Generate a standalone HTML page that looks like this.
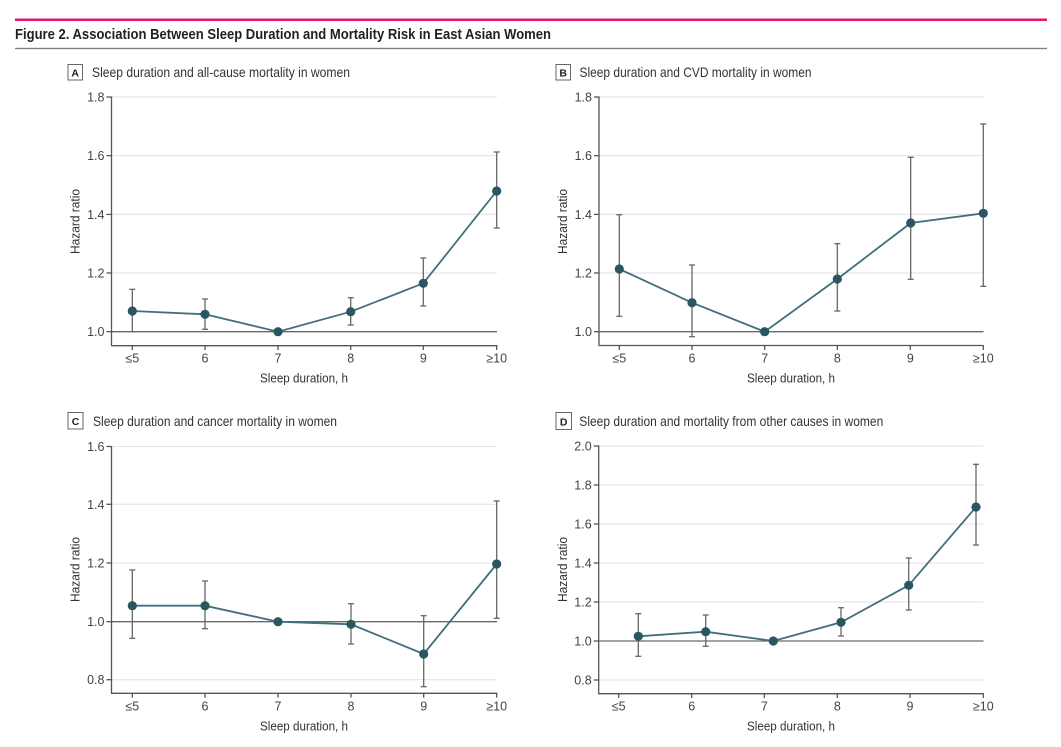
<!DOCTYPE html>
<html>
<head>
<meta charset="utf-8">
<style>
  html,body{margin:0;padding:0;background:#fff;}
  svg{display:block;}
  text{font-family:"Liberation Sans", sans-serif;}
</style>
</head>
<body>
<svg width="1061" height="747" viewBox="0 0 1061 747" xmlns="http://www.w3.org/2000/svg">
  <rect x="0" y="0" width="1061" height="747" fill="#fff"/>
  <!-- header -->
  <rect x="15" y="18.5" width="1032" height="2.5" fill="#e5146f"/>
  <text x="15" y="39" font-size="15" font-weight="bold" fill="#231f20" textLength="536" lengthAdjust="spacingAndGlyphs">Figure 2. Association Between Sleep Duration and Mortality Risk in East Asian Women</text>
  <rect x="15" y="47.8" width="1032" height="1.4" fill="#808080"/>

  <!-- ============ PANEL A ============ -->
  <rect x="68" y="64.5" width="14.5" height="15.5" fill="#fff" stroke="#666" stroke-width="1"/>
  <text x="75.2" y="76.5" font-size="10.5" font-weight="bold" fill="#222" text-anchor="middle">A</text>
  <text x="92" y="77" font-size="14" fill="#333" textLength="258" lengthAdjust="spacingAndGlyphs">Sleep duration and all-cause mortality in women</text>
  <g stroke="#e6e6e6" stroke-width="1.2">
    <line x1="111.5" y1="97" x2="497" y2="97"/>
    <line x1="111.5" y1="155.7" x2="497" y2="155.7"/>
    <line x1="111.5" y1="214.4" x2="497" y2="214.4"/>
    <line x1="111.5" y1="273" x2="497" y2="273"/>
  </g>
  <line x1="111.5" y1="331.7" x2="497" y2="331.7" stroke="#6a6a6a" stroke-width="1.3"/>
  <g stroke="#555" stroke-width="1.3" fill="none">
    <line x1="111.5" y1="96.5" x2="111.5" y2="346"/>
    <line x1="111" y1="345.7" x2="497.3" y2="345.7"/>
    <line x1="106.5" y1="97" x2="111.5" y2="97"/>
    <line x1="106.5" y1="155.7" x2="111.5" y2="155.7"/>
    <line x1="106.5" y1="214.4" x2="111.5" y2="214.4"/>
    <line x1="106.5" y1="273" x2="111.5" y2="273"/>
    <line x1="106.5" y1="331.7" x2="111.5" y2="331.7"/>
    <line x1="132.3" y1="345.7" x2="132.3" y2="350"/>
    <line x1="205" y1="345.7" x2="205" y2="350"/>
    <line x1="278" y1="345.7" x2="278" y2="350"/>
    <line x1="350.7" y1="345.7" x2="350.7" y2="350"/>
    <line x1="423.3" y1="345.7" x2="423.3" y2="350"/>
    <line x1="496.7" y1="345.7" x2="496.7" y2="350"/>
  </g>
  <g font-size="12.5" fill="#4a423f" text-anchor="end">
    <text x="104.5" y="101.5">1.8</text>
    <text x="104.5" y="160.2">1.6</text>
    <text x="104.5" y="218.9">1.4</text>
    <text x="104.5" y="277.5">1.2</text>
    <text x="104.5" y="336.2">1.0</text>
  </g>
  <g font-size="12.5" fill="#4a423f" text-anchor="middle">
    <text x="132.3" y="362.7">≤5</text>
    <text x="205" y="362.7">6</text>
    <text x="278" y="362.7">7</text>
    <text x="350.7" y="362.7">8</text>
    <text x="423.3" y="362.7">9</text>
    <text x="496.7" y="362.7">≥10</text>
  </g>
  <text x="304" y="382.3" font-size="13" fill="#333" text-anchor="middle" textLength="88" lengthAdjust="spacingAndGlyphs">Sleep duration, h</text>
  <text transform="translate(79.5,221.5) rotate(-90)" font-size="13" fill="#333" text-anchor="middle" textLength="65" lengthAdjust="spacingAndGlyphs">Hazard ratio</text>
  <g stroke="#666" stroke-width="1.3">
    <line x1="132.3" y1="289.3" x2="132.3" y2="331.7"/><line x1="129.3" y1="289.3" x2="135.3" y2="289.3"/><line x1="129.3" y1="331.7" x2="135.3" y2="331.7"/>
    <line x1="205" y1="299" x2="205" y2="329.3"/><line x1="202" y1="299" x2="208" y2="299"/><line x1="202" y1="329.3" x2="208" y2="329.3"/>
    <line x1="350.7" y1="297.7" x2="350.7" y2="325"/><line x1="347.7" y1="297.7" x2="353.7" y2="297.7"/><line x1="347.7" y1="325" x2="353.7" y2="325"/>
    <line x1="423.3" y1="258" x2="423.3" y2="306"/><line x1="420.3" y1="258" x2="426.3" y2="258"/><line x1="420.3" y1="306" x2="426.3" y2="306"/>
    <line x1="496.7" y1="152" x2="496.7" y2="228"/><line x1="493.7" y1="152" x2="499.7" y2="152"/><line x1="493.7" y1="228" x2="499.7" y2="228"/>
  </g>
  <polyline points="132.3,311 205,314.3 278,331.7 350.7,311.7 423.3,283.3 496.7,191" fill="none" stroke="#41707c" stroke-width="1.8"/>
  <g fill="#2a5662">
    <circle cx="132.3" cy="311" r="4.6"/><circle cx="205" cy="314.3" r="4.6"/><circle cx="278" cy="331.7" r="4.6"/>
    <circle cx="350.7" cy="311.7" r="4.6"/><circle cx="423.3" cy="283.3" r="4.6"/><circle cx="496.7" cy="191" r="4.6"/>
  </g>

  <!-- ============ PANEL B ============ -->
  <rect x="556" y="64.5" width="14.5" height="15.5" fill="#fff" stroke="#666" stroke-width="1"/>
  <text x="563.2" y="76.5" font-size="10.5" font-weight="bold" fill="#222" text-anchor="middle">B</text>
  <text x="579.5" y="77" font-size="14" fill="#333" textLength="232" lengthAdjust="spacingAndGlyphs">Sleep duration and CVD mortality in women</text>
  <g stroke="#e6e6e6" stroke-width="1.2">
    <line x1="599" y1="97" x2="983.5" y2="97"/>
    <line x1="599" y1="155.7" x2="983.5" y2="155.7"/>
    <line x1="599" y1="214.4" x2="983.5" y2="214.4"/>
    <line x1="599" y1="273" x2="983.5" y2="273"/>
  </g>
  <line x1="599" y1="331.7" x2="983.5" y2="331.7" stroke="#6a6a6a" stroke-width="1.3"/>
  <g stroke="#555" stroke-width="1.3" fill="none">
    <line x1="599" y1="96.5" x2="599" y2="346"/>
    <line x1="598.5" y1="345.5" x2="983.8" y2="345.5"/>
    <line x1="594" y1="97" x2="599" y2="97"/>
    <line x1="594" y1="155.7" x2="599" y2="155.7"/>
    <line x1="594" y1="214.4" x2="599" y2="214.4"/>
    <line x1="594" y1="273" x2="599" y2="273"/>
    <line x1="594" y1="331.7" x2="599" y2="331.7"/>
    <line x1="619.3" y1="345.5" x2="619.3" y2="350"/>
    <line x1="692" y1="345.5" x2="692" y2="350"/>
    <line x1="764.7" y1="345.5" x2="764.7" y2="350"/>
    <line x1="837.3" y1="345.5" x2="837.3" y2="350"/>
    <line x1="910.3" y1="345.5" x2="910.3" y2="350"/>
    <line x1="983.3" y1="345.5" x2="983.3" y2="350"/>
  </g>
  <g font-size="12.5" fill="#4a423f" text-anchor="end">
    <text x="592" y="101.5">1.8</text>
    <text x="592" y="160.2">1.6</text>
    <text x="592" y="218.9">1.4</text>
    <text x="592" y="277.5">1.2</text>
    <text x="592" y="336.2">1.0</text>
  </g>
  <g font-size="12.5" fill="#4a423f" text-anchor="middle">
    <text x="619.3" y="362.5">≤5</text>
    <text x="692" y="362.5">6</text>
    <text x="764.7" y="362.5">7</text>
    <text x="837.3" y="362.5">8</text>
    <text x="910.3" y="362.5">9</text>
    <text x="983.3" y="362.5">≥10</text>
  </g>
  <text x="791" y="382.3" font-size="13" fill="#333" text-anchor="middle" textLength="88" lengthAdjust="spacingAndGlyphs">Sleep duration, h</text>
  <text transform="translate(566.8,221.5) rotate(-90)" font-size="13" fill="#333" text-anchor="middle" textLength="65" lengthAdjust="spacingAndGlyphs">Hazard ratio</text>
  <g stroke="#666" stroke-width="1.3">
    <line x1="619.3" y1="214.7" x2="619.3" y2="316.3"/><line x1="616.3" y1="214.7" x2="622.3" y2="214.7"/><line x1="616.3" y1="316.3" x2="622.3" y2="316.3"/>
    <line x1="692" y1="265" x2="692" y2="336.7"/><line x1="689" y1="265" x2="695" y2="265"/><line x1="689" y1="336.7" x2="695" y2="336.7"/>
    <line x1="837.3" y1="243.7" x2="837.3" y2="311"/><line x1="834.3" y1="243.7" x2="840.3" y2="243.7"/><line x1="834.3" y1="311" x2="840.3" y2="311"/>
    <line x1="910.7" y1="157.3" x2="910.7" y2="279.3"/><line x1="907.7" y1="157.3" x2="913.7" y2="157.3"/><line x1="907.7" y1="279.3" x2="913.7" y2="279.3"/>
    <line x1="983.3" y1="124" x2="983.3" y2="286.3"/><line x1="980.3" y1="124" x2="986.3" y2="124"/><line x1="980.3" y1="286.3" x2="986.3" y2="286.3"/>
  </g>
  <polyline points="619.3,269 692,302.7 764.7,331.7 837.3,279 910.7,223 983.3,213.3" fill="none" stroke="#41707c" stroke-width="1.8"/>
  <g fill="#2a5662">
    <circle cx="619.3" cy="269" r="4.6"/><circle cx="692" cy="302.7" r="4.6"/><circle cx="764.7" cy="331.7" r="4.6"/>
    <circle cx="837.3" cy="279" r="4.6"/><circle cx="910.7" cy="223" r="4.6"/><circle cx="983.3" cy="213.3" r="4.6"/>
  </g>

  <!-- ============ PANEL C ============ -->
  <rect x="68" y="412.5" width="15" height="16.5" fill="#fff" stroke="#666" stroke-width="1"/>
  <text x="75.5" y="425" font-size="10.5" font-weight="bold" fill="#222" text-anchor="middle">C</text>
  <text x="93" y="426" font-size="14" fill="#333" textLength="244" lengthAdjust="spacingAndGlyphs">Sleep duration and cancer mortality in women</text>
  <g stroke="#e6e6e6" stroke-width="1.2">
    <line x1="111.5" y1="446.5" x2="497" y2="446.5"/>
    <line x1="111.5" y1="504.3" x2="497" y2="504.3"/>
    <line x1="111.5" y1="563" x2="497" y2="563"/>
    <line x1="111.5" y1="679.7" x2="497" y2="679.7"/>
  </g>
  <line x1="111.5" y1="621.7" x2="497" y2="621.7" stroke="#6a6a6a" stroke-width="1.3"/>
  <g stroke="#555" stroke-width="1.3" fill="none">
    <line x1="111.5" y1="446" x2="111.5" y2="693.6"/>
    <line x1="111" y1="693.3" x2="497.3" y2="693.3"/>
    <line x1="106.5" y1="446.5" x2="111.5" y2="446.5"/>
    <line x1="106.5" y1="504.3" x2="111.5" y2="504.3"/>
    <line x1="106.5" y1="563" x2="111.5" y2="563"/>
    <line x1="106.5" y1="621.7" x2="111.5" y2="621.7"/>
    <line x1="106.5" y1="679.7" x2="111.5" y2="679.7"/>
    <line x1="132.3" y1="693.3" x2="132.3" y2="697.6"/>
    <line x1="205" y1="693.3" x2="205" y2="697.6"/>
    <line x1="278" y1="693.3" x2="278" y2="697.6"/>
    <line x1="351" y1="693.3" x2="351" y2="697.6"/>
    <line x1="423.7" y1="693.3" x2="423.7" y2="697.6"/>
    <line x1="496.7" y1="693.3" x2="496.7" y2="697.6"/>
  </g>
  <g font-size="12.5" fill="#4a423f" text-anchor="end">
    <text x="104.5" y="451">1.6</text>
    <text x="104.5" y="508.8">1.4</text>
    <text x="104.5" y="567.5">1.2</text>
    <text x="104.5" y="626.2">1.0</text>
    <text x="104.5" y="684.2">0.8</text>
  </g>
  <g font-size="12.5" fill="#4a423f" text-anchor="middle">
    <text x="132.3" y="710.7">≤5</text>
    <text x="205" y="710.7">6</text>
    <text x="278" y="710.7">7</text>
    <text x="351" y="710.7">8</text>
    <text x="423.7" y="710.7">9</text>
    <text x="496.7" y="710.7">≥10</text>
  </g>
  <text x="304" y="730.5" font-size="13" fill="#333" text-anchor="middle" textLength="88" lengthAdjust="spacingAndGlyphs">Sleep duration, h</text>
  <text transform="translate(79.5,569.5) rotate(-90)" font-size="13" fill="#333" text-anchor="middle" textLength="65" lengthAdjust="spacingAndGlyphs">Hazard ratio</text>
  <g stroke="#666" stroke-width="1.3">
    <line x1="132.3" y1="570" x2="132.3" y2="638.3"/><line x1="129.3" y1="570" x2="135.3" y2="570"/><line x1="129.3" y1="638.3" x2="135.3" y2="638.3"/>
    <line x1="205" y1="581" x2="205" y2="628.7"/><line x1="202" y1="581" x2="208" y2="581"/><line x1="202" y1="628.7" x2="208" y2="628.7"/>
    <line x1="351" y1="603.7" x2="351" y2="644"/><line x1="348" y1="603.7" x2="354" y2="603.7"/><line x1="348" y1="644" x2="354" y2="644"/>
    <line x1="423.7" y1="615.7" x2="423.7" y2="686.7"/><line x1="420.7" y1="615.7" x2="426.7" y2="615.7"/><line x1="420.7" y1="686.7" x2="426.7" y2="686.7"/>
    <line x1="496.7" y1="501" x2="496.7" y2="618.3"/><line x1="493.7" y1="501" x2="499.7" y2="501"/><line x1="493.7" y1="618.3" x2="499.7" y2="618.3"/>
  </g>
  <polyline points="132.3,605.7 205,605.7 278,621.7 351,624.3 423.7,654 496.7,564" fill="none" stroke="#41707c" stroke-width="1.8"/>
  <g fill="#2a5662">
    <circle cx="132.3" cy="605.7" r="4.6"/><circle cx="205" cy="605.7" r="4.6"/><circle cx="278" cy="621.7" r="4.6"/>
    <circle cx="351" cy="624.3" r="4.6"/><circle cx="423.7" cy="654" r="4.6"/><circle cx="496.7" cy="564" r="4.6"/>
  </g>

  <!-- ============ PANEL D ============ -->
  <rect x="556" y="412.5" width="15.5" height="17" fill="#fff" stroke="#666" stroke-width="1"/>
  <text x="563.7" y="425.3" font-size="10.5" font-weight="bold" fill="#222" text-anchor="middle">D</text>
  <text x="579.3" y="426" font-size="14" fill="#333" textLength="304" lengthAdjust="spacingAndGlyphs">Sleep duration and mortality from other causes in women</text>
  <g stroke="#e6e6e6" stroke-width="1.2">
    <line x1="598.7" y1="446" x2="983.5" y2="446"/>
    <line x1="598.7" y1="485" x2="983.5" y2="485"/>
    <line x1="598.7" y1="524" x2="983.5" y2="524"/>
    <line x1="598.7" y1="563" x2="983.5" y2="563"/>
    <line x1="598.7" y1="602" x2="983.5" y2="602"/>
    <line x1="598.7" y1="680" x2="983.5" y2="680"/>
  </g>
  <line x1="598.7" y1="641" x2="983.5" y2="641" stroke="#6a6a6a" stroke-width="1.3"/>
  <g stroke="#555" stroke-width="1.3" fill="none">
    <line x1="598.7" y1="445.5" x2="598.7" y2="694"/>
    <line x1="598.2" y1="693.7" x2="983.8" y2="693.7"/>
    <line x1="593.7" y1="446" x2="598.7" y2="446"/>
    <line x1="593.7" y1="485" x2="598.7" y2="485"/>
    <line x1="593.7" y1="524" x2="598.7" y2="524"/>
    <line x1="593.7" y1="563" x2="598.7" y2="563"/>
    <line x1="593.7" y1="602" x2="598.7" y2="602"/>
    <line x1="593.7" y1="641" x2="598.7" y2="641"/>
    <line x1="593.7" y1="680" x2="598.7" y2="680"/>
    <line x1="618.7" y1="693.7" x2="618.7" y2="698"/>
    <line x1="691.7" y1="693.7" x2="691.7" y2="698"/>
    <line x1="764.3" y1="693.7" x2="764.3" y2="698"/>
    <line x1="837.3" y1="693.7" x2="837.3" y2="698"/>
    <line x1="910" y1="693.7" x2="910" y2="698"/>
    <line x1="983.3" y1="693.7" x2="983.3" y2="698"/>
  </g>
  <g font-size="12.5" fill="#4a423f" text-anchor="end">
    <text x="591.7" y="450.5">2.0</text>
    <text x="591.7" y="489.5">1.8</text>
    <text x="591.7" y="528.5">1.6</text>
    <text x="591.7" y="567.5">1.4</text>
    <text x="591.7" y="606.5">1.2</text>
    <text x="591.7" y="645.5">1.0</text>
    <text x="591.7" y="684.5">0.8</text>
  </g>
  <g font-size="12.5" fill="#4a423f" text-anchor="middle">
    <text x="618.7" y="710.7">≤5</text>
    <text x="691.7" y="710.7">6</text>
    <text x="764.3" y="710.7">7</text>
    <text x="837.3" y="710.7">8</text>
    <text x="910" y="710.7">9</text>
    <text x="983.3" y="710.7">≥10</text>
  </g>
  <text x="791" y="730.5" font-size="13" fill="#333" text-anchor="middle" textLength="88" lengthAdjust="spacingAndGlyphs">Sleep duration, h</text>
  <text transform="translate(566.8,569.5) rotate(-90)" font-size="13" fill="#333" text-anchor="middle" textLength="65" lengthAdjust="spacingAndGlyphs">Hazard ratio</text>
  <g stroke="#666" stroke-width="1.3">
    <line x1="638.3" y1="613.7" x2="638.3" y2="656.3"/><line x1="635.3" y1="613.7" x2="641.3" y2="613.7"/><line x1="635.3" y1="656.3" x2="641.3" y2="656.3"/>
    <line x1="705.7" y1="615" x2="705.7" y2="646.3"/><line x1="702.7" y1="615" x2="708.7" y2="615"/><line x1="702.7" y1="646.3" x2="708.7" y2="646.3"/>
    <line x1="841" y1="607.7" x2="841" y2="636"/><line x1="838" y1="607.7" x2="844" y2="607.7"/><line x1="838" y1="636" x2="844" y2="636"/>
    <line x1="908.7" y1="558" x2="908.7" y2="610"/><line x1="905.7" y1="558" x2="911.7" y2="558"/><line x1="905.7" y1="610" x2="911.7" y2="610"/>
    <line x1="976" y1="464.3" x2="976" y2="545"/><line x1="973" y1="464.3" x2="979" y2="464.3"/><line x1="973" y1="545" x2="979" y2="545"/>
  </g>
  <polyline points="638.3,636.3 705.7,631.7 773.3,641 841,622.3 908.7,585.3 976,507" fill="none" stroke="#41707c" stroke-width="1.8"/>
  <g fill="#2a5662">
    <circle cx="638.3" cy="636.3" r="4.6"/><circle cx="705.7" cy="631.7" r="4.6"/><circle cx="773.3" cy="641" r="4.6"/>
    <circle cx="841" cy="622.3" r="4.6"/><circle cx="908.7" cy="585.3" r="4.6"/><circle cx="976" cy="507" r="4.6"/>
  </g>
</svg>
</body>
</html>
